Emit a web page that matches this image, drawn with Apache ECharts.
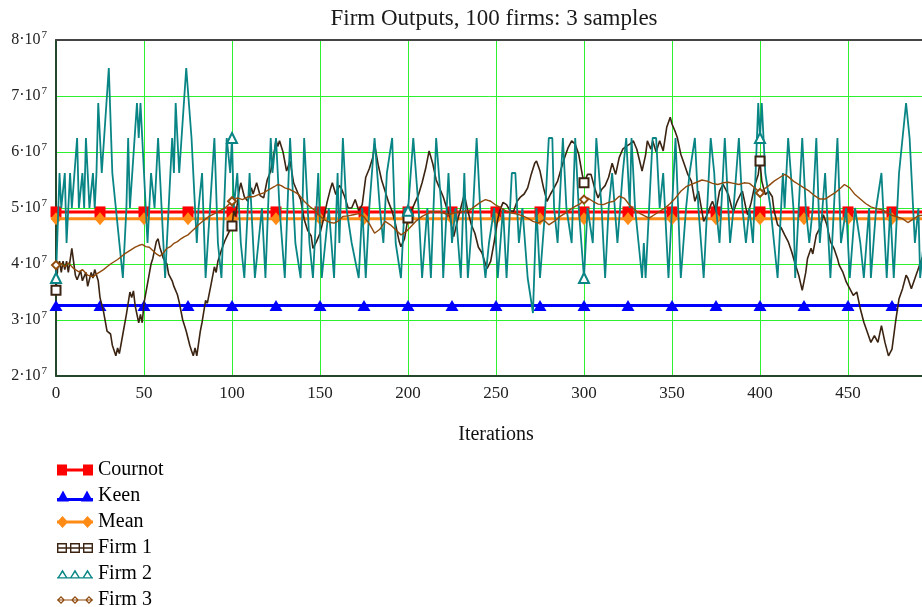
<!DOCTYPE html>
<html>
<head>
<meta charset="utf-8">
<title>Firm Outputs</title>
<script src="https://cdn.jsdelivr.net/npm/echarts@6/dist/echarts.min.js"></script>
<style>
  html, body { margin: 0; padding: 0; background: #fff; }
  #chart { width: 922px; height: 607px; }
</style>
</head>
<body>
<div id="chart"></div>
<script>
// values are in units of 10^7 (axis labels show the 10^7 factor)
const benchIters = [0, 25, 50, 75, 100, 125, 150, 175, 200, 225, 250, 275, 300, 325, 350, 375, 400, 425, 450, 475, 500];
const cournotLevel = 4.93;
const keenLevel = 3.26;
const meanLevel = 4.81;

// [iteration, output]
const firm1 = [
  [0,3.53],[1,3.95],[2,4.05],[3,3.85],[4,4.05],[5,3.9],[6,4.05],[7,3.85],[9,4.28],[11,3.8],[12,3.72],[14,3.88],
  [15,3.7],[17,3.85],[18,3.6],[20,3.85],[21,3.75],[22,3.9],[24,3.7],[25,3.4],[27,3.15],[29,2.8],[31,2.75],[32,2.55],
  [34,2.36],[35,2.5],[36,2.4],[38,2.75],[40,3.1],[42,3.5],[43,3.4],[44,3.52],[45,3.25],[47,2.95],[48,3.1],[49,2.95],
  [50,3.3],[52,3.65],[54,4.0],[55,4.1],[57,4.4],[58,4.45],[59,4.3],[61,4.1],[63,4.0],[64,3.82],[66,3.7],[67,3.6],
  [69,3.45],[70,3.32],[72,3.0],[73,2.9],[74,2.8],[76,2.55],[77,2.45],[78,2.36],[79,2.5],[80,2.36],[82,2.8],[83,2.96],
  [85,3.35],[86,3.3],[88,3.62],[90,3.95],[91,3.85],[92,4.05],[94,4.25],[96,4.42],[98,4.55],[100,4.68],[101,4.95],
  [102,4.85],[104,5.3],[105,5.45],[107,5.2],[109,5.12],[111,5.36],[112,5.25],[114,5.45],[116,5.22],[118,5.18],
  [120,5.5],[122,5.66],[124,6.0],[125,6.21],[126,6.1],[127,6.2],[129,6.0],[131,5.66],[133,5.84],[135,5.45],[137,5.3],
  [139,5.15],[141,4.8],[143,4.6],[145,4.5],[146,4.28],[148,4.4],[150,4.55],[152,4.8],[154,5.1],[156,5.35],[157,5.45],
  [159,5.24],[161,5.4],[162,5.36],[164,5.2],[166,5.0],[168,5.0],[170,5.15],[172,4.95],[174,5.06],[176,5.55],[178,5.7],
  [180,5.9],[181,6.14],[183,5.78],[185,5.5],[187,5.3],[189,5.1],[191,4.94],[193,4.7],[195,4.4],[196,4.31],[198,4.45],
  [200,4.82],[202,4.95],[204,5.1],[206,5.24],[208,5.45],[210,5.7],[212,6.02],[214,5.8],[216,5.5],[218,5.35],[220,5.2],
  [222,5.0],[224,4.82],[226,4.49],[228,4.76],[230,5.0],[232,5.24],[234,4.95],[236,4.7],[238,4.55],[240,4.3],[242,4.2],
  [244,4.0],[245,3.92],[247,4.05],[249,4.4],[251,4.8],[252,4.94],[254,5.1],[256,5.06],[258,4.95],[260,4.94],[262,5.12],
  [264,5.2],[266,5.25],[268,5.36],[270,5.6],[272,5.8],[273,5.84],[275,5.66],[277,5.36],[279,5.12],[281,5.25],[283,5.36],
  [285,5.48],[287,5.7],[289,5.9],[291,6.08],[293,6.2],[295,6.14],[297,5.96],[299,5.6],[300,5.45],[302,5.6],[304,5.6],
  [306,5.36],[308,5.18],[310,5.33],[312,5.4],[314,5.55],[316,5.8],[318,5.6],[320,5.9],[322,6.05],[324,6.1],[326,6.14],
  [328,6.2],[330,6.05],[333,5.66],[335,5.95],[336,6.2],[338,6.05],[339,6.2],[341,6.0],[343,6.2],[345,6.02],[347,6.44],
  [349,6.62],[350,6.5],[352,6.35],[353,6.26],[355,5.96],[357,5.78],[359,5.6],[361,5.48],[363,5.12],[365,5.3],[366,5.3],
  [368,4.76],[370,4.88],[372,5.05],[373,5.12],[375,4.94],[377,5.3],[379,5.42],[381,5.3],[382,5.24],[384,5.0],[385,4.94],
  [387,5.12],[389,5.25],[390,5.3],[392,5.0],[393,4.88],[395,5.1],[397,5.4],[399,5.6],[400,5.84],[401,5.48],[403,5.24],
  [405,5.3],[407,5.2],[408,4.95],[410,4.7],[412,4.65],[414,4.52],[416,4.4],[418,4.22],[420,4.0],[422,3.8],[424,3.53],
  [426,3.85],[427,4.1],[429,4.28],[430,4.18],[432,4.52],[434,4.64],[436,4.88],[438,4.7],[440,4.4],[442,4.28],[444,4.1],
  [445,3.98],[447,3.86],[449,3.68],[451,3.56],[453,3.44],[455,3.5],[457,3.2],[459,2.96],[461,2.78],[463,2.6],[465,2.72],
  [467,2.6],[469,2.9],[471,2.6],[473,2.36],[475,2.48],[477,2.96],[479,3.38],[481,3.56],[483,3.8],[484,3.75],[486,3.56],
  [488,3.74],[490,3.92],[492,4.1],[494,4.2]
];

const firm2 = [
  [0,3.75],[2,5.625],[3,5.0],[5,5.625],[6,4.375],[8,5.625],[9,5.0],[12,6.25],[13,5.0],[15,5.625],[16,5.0],[17,6.25],
  [19,5.0],[21,5.625],[22,5.0],[23,5.625],[24,6.875],[26,5.625],[30,7.5],[32,5.625],[34,5.0],[38,3.75],[40,5.0],
  [41,6.25],[42,5.0],[46,6.875],[47,6.25],[48,6.875],[50,5.625],[52,4.375],[54,5.625],[56,5.0],[58,6.25],[60,5.0],
  [62,3.75],[64,5.0],[66,6.25],[67,5.625],[68,6.875],[70,5.625],[74,7.5],[77,6.25],[79,5.0],[80,4.375],[81,5.0],
  [83,5.625],[85,3.75],[90,6.25],[92,4.375],[94,3.75],[97,6.25],[99,5.625],[100,6.25],[101,5.0],[103,5.625],
  [105,4.375],[107,3.75],[110,5.625],[113,3.75],[117,5.0],[119,3.75],[122,6.25],[123,5.625],[125,6.25],[127,5.0],
  [130,3.75],[133,6.25],[136,4.375],[139,3.75],[141,6.25],[144,4.375],[146,3.75],[149,5.625],[151,3.75],[155,5.0],
  [158,3.75],[160,5.625],[161,4.375],[163,6.25],[165,5.0],[168,4.375],[172,3.75],[174,5.0],[176,3.75],[178,5.0],
  [181,6.25],[184,5.0],[186,4.375],[188,5.625],[191,6.25],[193,4.375],[196,3.75],[198,5.0],[200,4.95],[203,6.25],
  [206,5.0],[208,3.75],[211,5.0],[213,3.75],[216,6.25],[219,5.0],[220,3.75],[223,5.625],[225,4.375],[227,5.0],
  [230,3.75],[232,5.625],[234,3.75],[237,5.0],[239,6.25],[242,4.375],[244,3.75],[246,4.375],[249,5.0],[251,3.75],
  [254,5.0],[256,3.75],[259,5.625],[261,5.625],[263,4.375],[265,5.0],[268,3.75],[271,3.125],[273,5.0],[275,3.75],
  [278,5.0],[280,6.25],[282,6.25],[283,5.0],[285,4.375],[288,6.25],[290,5.0],[293,4.375],[295,6.25],[297,5.0],
  [300,3.75],[302,5.0],[305,4.375],[307,6.25],[310,5.0],[312,3.75],[314,5.0],[316,5.625],[319,4.375],[322,5.625],
  [324,6.25],[326,5.0],[327,6.25],[329,5.0],[331,4.375],[333,3.75],[334,4.375],[335,3.75],[337,5.0],[339,6.25],
  [341,6.25],[343,5.0],[345,5.625],[348,3.75],[350,5.0],[352,6.25],[355,3.75],[358,5.0],[360,5.625],[363,6.25],
  [365,5.0],[368,3.75],[370,5.0],[372,6.25],[374,5.625],[375,5.0],[377,4.375],[380,6.25],[382,5.0],[383,4.375],
  [385,5.0],[388,6.25],[390,5.0],[392,4.375],[394,5.0],[396,4.375],[399,6.875],[400,6.25],[401,6.875],[403,5.625],
  [406,5.0],[408,4.375],[410,3.75],[413,5.625],[414,5.0],[416,6.25],[419,5.0],[420,3.75],[422,5.0],[424,6.25],
  [426,5.0],[428,4.375],[430,5.0],[432,6.25],[434,4.375],[437,5.625],[440,3.75],[442,5.0],[444,6.25],[446,4.375],
  [449,5.0],[451,3.75],[454,5.0],[457,4.375],[459,3.75],[462,5.0],[463,3.75],[466,5.0],[469,5.625],[472,3.75],
  [474,5.0],[476,3.75],[479,5.625],[481,6.25],[483,6.875],[485,6.25],[488,4.375],[490,5.0],[491,3.75],[493,4.375]
];

const firm3 = [
  [0,3.98],[3,4.01],[5,3.95],[7,4.02],[10,3.92],[13,3.86],[15,3.9],[18,3.8],[21,3.77],[23,3.82],[25,3.86],[27,3.9],
  [29,3.95],[31,4.0],[33,4.04],[35,4.08],[37,4.13],[39,4.18],[41,4.22],[43,4.26],[45,4.3],[47,4.33],[49,4.35],[51,4.31],
  [53,4.3],[55,4.24],[57,4.18],[59,4.14],[61,4.2],[63,4.28],[65,4.31],[67,4.37],[69,4.4],[71,4.45],[73,4.49],[75,4.52],
  [77,4.58],[79,4.64],[81,4.7],[84,4.78],[87,4.85],[90,4.9],[93,4.95],[96,5.0],[98,5.06],[100,5.12],[103,5.18],
  [106,5.15],[109,5.2],[112,5.2],[115,5.24],[118,5.27],[121,5.33],[124,5.38],[126,5.42],[128,5.4],[130,5.36],
  [133,5.33],[136,5.28],[138,5.24],[141,5.12],[144,5.03],[147,4.96],[150,4.85],[153,4.78],[156,4.74],[158,4.73],
  [160,4.76],[163,4.85],[166,4.86],[169,4.88],[172,4.9],[175,4.84],[178,4.72],[181,4.55],[184,4.62],[187,4.76],
  [190,4.7],[193,4.61],[196,4.52],[199,4.58],[202,4.68],[205,4.78],[208,4.85],[211,4.9],[214,4.94],[217,4.93],
  [220,4.91],[223,4.88],[226,4.91],[229,4.93],[232,4.94],[235,4.96],[238,5.03],[241,5.1],[244,5.15],[247,5.12],
  [250,5.05],[253,5.0],[256,4.94],[259,4.91],[262,4.89],[265,4.86],[268,4.82],[271,4.76],[274,4.73],[277,4.79],
  [280,4.7],[283,4.76],[286,4.84],[289,4.9],[292,4.97],[295,5.03],[298,5.08],[300,5.15],[302,5.18],[305,5.12],
  [308,5.07],[311,5.06],[314,5.1],[317,5.12],[320,5.21],[323,5.17],[326,5.05],[329,4.96],[332,4.9],[335,4.85],
  [337,4.82],[340,4.88],[343,4.94],[346,5.0],[349,5.08],[352,5.18],[355,5.3],[358,5.38],[361,5.42],[364,5.46],
  [367,5.5],[370,5.48],[373,5.44],[376,5.42],[379,5.45],[382,5.46],[385,5.44],[388,5.42],[391,5.45],[394,5.44],
  [397,5.36],[400,5.27],[402,5.33],[405,5.4],[408,5.48],[411,5.54],[414,5.6],[416,5.56],[419,5.48],[422,5.42],
  [425,5.36],[428,5.3],[431,5.22],[434,5.16],[437,5.16],[440,5.22],[443,5.28],[446,5.36],[448,5.42],[451,5.36],
  [454,5.24],[457,5.16],[460,5.08],[463,5.02],[466,4.99],[469,4.97],[472,4.92],[475,4.87],[478,4.84],[481,4.81],
  [484,4.74],[487,4.8],[490,4.86],[494,4.88]
];

const FONT = '"Liberation Serif", "DejaVu Serif", serif';

// legend icon paths (clockwise = filled, counter-clockwise = hole)
function box(x, y, w, h) { return 'M' + x + ',' + y + 'h' + w + 'v' + h + 'h' + (-w) + 'z'; }
function hole(x, y, w, h) { return 'M' + x + ',' + y + 'v' + h + 'h' + w + 'v' + (-h) + 'z'; }
function tri(x, y, w, h) { return 'M' + x + ',' + (y + h) + 'L' + (x + w / 2) + ',' + y + 'L' + (x + w) + ',' + (y + h) + 'z'; }
function triHole(x, y, w, h, t) {
  return 'M' + (x + t * 1.8) + ',' + (y + h - t) + 'L' + (x + w - t * 1.8) + ',' + (y + h - t) +
    'L' + (x + w / 2) + ',' + (y + t * 2.3) + 'z';
}
function dia(x, y, w, h) {
  return 'M' + x + ',' + (y + h / 2) + 'L' + (x + w / 2) + ',' + y + 'L' + (x + w) + ',' + (y + h / 2) +
    'L' + (x + w / 2) + ',' + (y + h) + 'z';
}
function diaHole(x, y, w, h, t) {
  const cx = x + w / 2, cy = y + h / 2;
  return 'M' + (x + t * 1.4) + ',' + cy + 'L' + cx + ',' + (y + h - t * 1.4) + 'L' + (x + w - t * 1.4) + ',' + cy +
    'L' + cx + ',' + (y + t * 1.4) + 'z';
}

const icons = {
  Cournot: 'path://' + box(0, 0, 10, 11) + box(26, 0, 10, 11) + box(0, 4, 36, 3),
  Keen: 'path://' + tri(0, 0, 12, 11) + tri(24, 0, 12, 11) + box(0, 7.5, 36, 3),
  Mean: 'path://' + dia(0, 0, 11, 12) + dia(25, 0, 11, 12) + box(0, 4.5, 36, 3),
  'Firm 1': 'path://' + [0, 13, 26].map(x => box(x, 0, 10, 10) + hole(x + 1.4, 1.4, 7.2, 7.2)).join('') + box(0, 4.3, 36, 1.4),
  'Firm 2': 'path://' + [0, 12.5, 25].map(x => tri(x, 0, 11, 9) + triHole(x, 0, 11, 9, 1.3)).join('') + box(0, 7.7, 36, 1.3),
  'Firm 3': 'path://' + [0, 14, 28].map(x => dia(x, 0, 8, 8) + diaHole(x, 0, 8, 8, 1.2)).join('') + box(0, 3.4, 36, 1.2)
};

const colors = {
  Cournot: '#ff0000', Keen: '#0000ff', Mean: '#ff8a14',
  'Firm 1': '#3b2412', 'Firm 2': '#0a8585', 'Firm 3': '#8f4a0c'
};

function benchSeries(name, level, symbol, size) {
  return {
    name: name, type: 'line',
    data: benchIters.map(i => [i, level]),
    symbol: symbol, symbolSize: size, showSymbol: true,
    lineStyle: { color: colors[name], width: 3 },
    itemStyle: { color: colors[name], borderWidth: 0 },
    z: 2
  };
}

function firmSeries(name, data, symbol, size, width) {
  return {
    name: name, type: 'line', data: data,
    symbol: (v) => (v[0] % 100 === 0 ? symbol : 'none'),
    symbolSize: size, showSymbol: true, showAllSymbol: true,
    lineStyle: { color: colors[name], width: width },
    itemStyle: { color: colors[name], borderColor: colors[name], borderWidth: 1.3 },
    z: 3
  };
}

const chart = echarts.init(document.getElementById('chart'), null, { renderer: 'canvas' });

chart.setOption({
  animation: false,
  backgroundColor: '#ffffff',
  title: {
    text: 'Firm Outputs, 100 firms: 3 samples',
    left: 489, top: 2, textAlign: 'center',
    textStyle: { fontFamily: FONT, fontSize: 23, fontWeight: 'normal', color: '#1a1a1a' }
  },
  legend: {
    orient: 'vertical', left: 57, top: 460, height: 160, padding: 0,
    itemWidth: 36, itemHeight: 12, itemGap: 6,
    textStyle: { fontFamily: FONT, fontSize: 20, color: '#000' },
    data: Object.keys(icons).map(n => ({
      name: n, icon: icons[n],
      itemStyle: { color: colors[n], borderWidth: 0 }
    }))
  },
  grid: { left: 56, top: 40, width: 880, height: 336, outerBoundsMode: 'none' },
  xAxis: [{
    type: 'value', min: 0, max: 500, interval: 50,
    name: 'Iterations', nameLocation: 'middle', nameGap: 49,
    nameTextStyle: { fontFamily: FONT, fontSize: 20, color: '#111' },
    axisLine: { show: true, onZero: false, lineStyle: { color: '#24462a', width: 2 } },
    axisTick: { show: false },
    axisLabel: { margin: 9, fontFamily: FONT, fontSize: 17, color: '#222' },
    splitLine: { show: true, lineStyle: { color: '#2ef02e', width: 1 } }
  }, {
    type: 'value', position: 'top', min: 0, max: 500, interval: 50,
    axisLine: { show: true, lineStyle: { color: '#444', width: 2 } },
    axisTick: { show: false }, axisLabel: { show: false }, splitLine: { show: false }
  }],
  yAxis: {
    type: 'value', min: 2, max: 8, interval: 1,
    axisLine: { show: true, lineStyle: { color: '#24462a', width: 2 } },
    axisTick: { show: false },
    splitLine: { show: true, lineStyle: { color: '#2ef02e', width: 1 } },
    axisLabel: {
      margin: 9,
      formatter: (v) => '{a|' + v + '·10}{b|7}',
      rich: {
        a: { fontFamily: FONT, fontSize: 16, color: '#222' },
        b: { fontFamily: FONT, fontSize: 11, color: '#222', padding: [0, 0, 9, 1] }
      }
    }
  },
  series: [
    benchSeries('Cournot', cournotLevel, 'rect', [11, 11]),
    benchSeries('Keen', keenLevel, 'triangle', [13, 11]),
    benchSeries('Mean', meanLevel, 'diamond', [11, 13]),
    firmSeries('Firm 1', firm1, 'emptyRect', 9, 1.6),
    firmSeries('Firm 2', firm2, 'emptyTriangle', 10, 1.8),
    firmSeries('Firm 3', firm3, 'emptyDiamond', 8, 1.4)
  ]
});
</script>
</body>
</html>
